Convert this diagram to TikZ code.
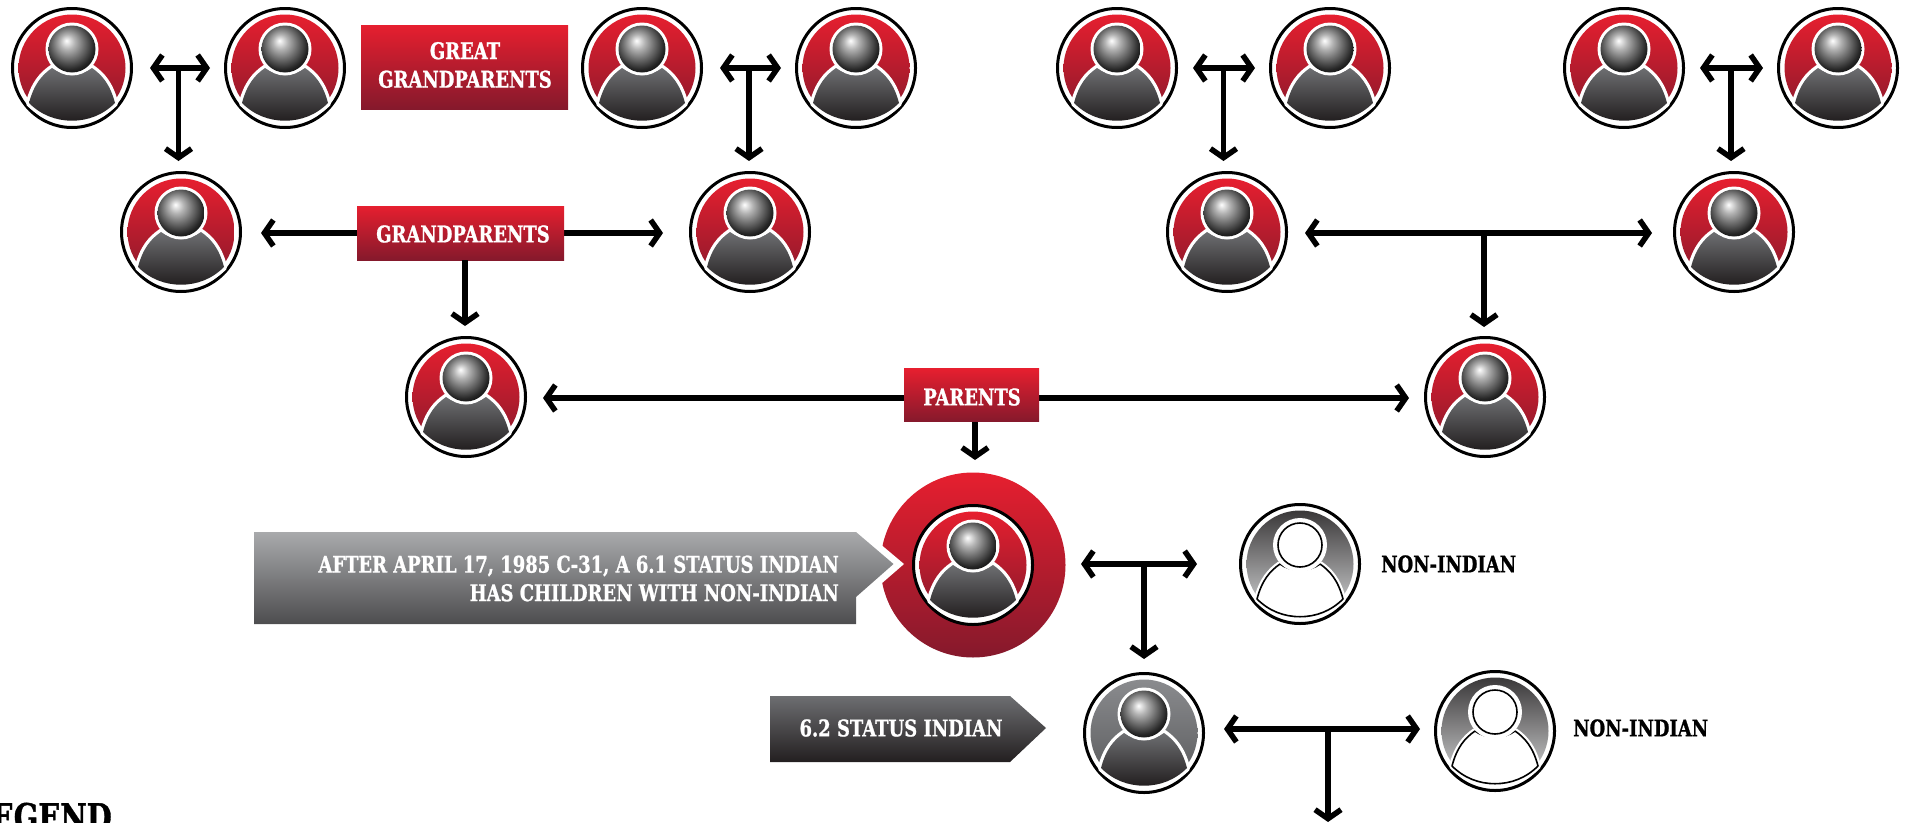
\documentclass[tikz,border=0pt]{standalone}
\usepackage{fontspec}
\setmainfont{DejaVu Serif}[FakeStretch=0.78,BoldFeatures={FakeBold=1}]
\usetikzlibrary{arrows.meta,calc}

\definecolor{redtop}{HTML}{E61F2F}
\definecolor{redbot}{HTML}{85192C}
\definecolor{steeltop}{HTML}{8A8B8E}
\definecolor{steelbot}{HTML}{58595B}
\definecolor{darktop}{HTML}{6D6E71}
\definecolor{darkbot}{HTML}{231F20}
\definecolor{greytop}{HTML}{A9AAAC}
\definecolor{greybot}{HTML}{4D4D4F}
\definecolor{fadetop}{HTML}{3A3839}
\definecolor{fadebot}{HTML}{D8D9DA}

\pgfdeclareradialshading{headball}{\pgfpoint{-6bp}{9bp}}{%
  color(0bp)=(white); color(8bp)=(black!30); color(16bp)=(black!55);
  color(26bp)=(black!85); color(34bp)=(black); color(50bp)=(black)}

\tikzset{
  personring/.style={circle,draw=black,fill=white,line width=3pt,minimum size=119pt,inner sep=0pt},
  link/.style={line width=5.5pt,line join=miter,>={Straight Barb[length=9pt,width=26pt,line width=5.5pt]}},
  redbox/.style={top color=redtop,bottom color=redbot,inner sep=0pt},
  slabtext/.style={font=\fontsize{23}{28.5}\selectfont\bfseries,inner sep=0pt},
  bodyshape/.style={insert path={(-43,35) .. controls (-38,16) and (-30,7) .. (-20,0)
    .. controls (-10,8) and (10,8) .. (20,0) .. controls (30,7) and (38,16) .. (43,35)
    .. controls (31,47) and (16,52.7) .. (0,52.7) .. controls (-16,52.7) and (-31,47) .. cycle}},
  pics/person/.style n args={2}{code={
    \shade[top color=#1,bottom color=#2] (0,0) circle (53.5);
    \draw[white,line width=6.5pt,line join=round,bodyshape];
    \shade[top color=darktop,bottom color=darkbot,bodyshape];
    \fill[white] (0,-19) circle (26.5);
    \shade[shading=headball] (0,-19) circle (23.5);
  }},
  pics/outlineperson/.style={code={
    \shade[top color=fadetop,bottom color=fadebot] (0,0) circle (53.5);
    \draw[white,fill=white,line width=6pt,line join=round,bodyshape];
    \draw[black,line width=1.6pt,line join=round,bodyshape];
    \fill[white] (0,-19) circle (27);
    \draw[black,fill=white,line width=1.6pt] (0,-19) circle (22);
  }}
}

\begin{document}
\begin{tikzpicture}[x=1pt,y=-1pt]
\useasboundingbox (0,0) rectangle (1905,822);
\clip (0,0) rectangle (1905,822);

% --- Large red disc behind the 6.1 person ---
\shade[top color=redtop,bottom color=redbot] (973,565) circle (92.5);
\fill[white] (866,532) -- (904,564) -- (866,597) -- cycle;

% --- Red persons, row by row ---
\foreach \nm/\x/\y in {gga/72/68,ggb/285/68,ggc/642/68,ggd/856/68,gge/1117/68,ggf/1330/68,ggg/1624/68,ggh/1838/68,
    gpa/181/232,gpb/750/232,gpc/1227/232,gpd/1734/232,para/466/397,parb/1485/397,self/973/565}{
  \node[personring] (\nm) at (\x,\y) {};
  \pic at (\nm) {person={redtop}{redbot}};
}

% --- Second generation and the two outlined persons ---
\node[personring] (child) at (1144,733) {};
\pic at (child) {person={steeltop}{steelbot}};
\node[personring] (nona) at (1300,564) {};
\pic at (nona) {outlineperson};
\node[personring] (nonb) at (1495,731) {};
\pic at (nonb) {outlineperson};

% --- Couples and their stems ---
\coordinate (ja) at ($(gga)!0.5!(ggb)$);
\coordinate (jb) at ($(ggc)!0.5!(ggd)$);
\coordinate (jc) at ($(gge)!0.5!(ggf)$);
\coordinate (jd) at ($(ggg)!0.5!(ggh)$);
\draw[link,<->,shorten <=17pt,shorten >=14pt] (gga) -- (ggb);
\draw[link,<->,shorten <=17pt,shorten >=14pt] (ggc) -- (ggd);
\draw[link,<->,shorten <=15pt,shorten >=14pt] (gge) -- (ggf);
\draw[link,<->,shorten <=15pt,shorten >=14pt] (ggg) -- (ggh);
\draw[link,->,shorten >=10pt] (ja) -- (ja |- gpa.north);
\draw[link,->,shorten >=10pt] (jb) -- (jb |- gpb.north);
\draw[link,->,shorten >=10pt] (jc) -- (jc |- gpc.north);
\draw[link,->,shorten >=10pt] (jd) -- (jd |- gpd.north);

\coordinate (lb) at (0,233);
\coordinate (lc) at (0,398);
\draw[link,<->,shorten <=19pt,shorten >=26pt] (gpa.east |- lb) -- (gpb.west |- lb);
\draw[link,<->,shorten <=17pt,shorten >=21pt] (gpc.east |- lb) -- (gpd.west |- lb);
\coordinate (je) at (1484,233);
\draw[link,->,shorten >=9pt] (je) -- (je |- parb.north);
\draw[link,<->,shorten <=16pt,shorten >=15pt] (para.east |- lc) -- (parb.west |- lc);

% --- Self with non-Indian partner ---
\coordinate (jf) at (1144,564);
\draw[link,<->,shorten <=47pt,shorten >=42pt] (self.east |- jf) -- (nona.west |- jf);
\draw[link,->,shorten >=13pt] (jf) -- (jf |- child.north);

% --- Child with non-Indian partner ---
\coordinate (jg) at (1328,729);
\draw[link,<->,shorten <=19pt,shorten >=14pt] (child.east |- jg) -- (nonb.west |- jg);
\coordinate (jh) at (1328,822);
\draw[link,->] (jg) -- (jh);

% --- Generation boxes ---
\node[redbox,minimum width=207pt,minimum height=84pt] (ggbox) at (464.5,67) {};
\node[slabtext,text=white,align=center] (gglab) at (465,65) {GREAT\\GRANDPARENTS};
\node[redbox,minimum width=207pt,minimum height=54pt] (gpbox) at (460.5,233) {};
\node[slabtext,text=white] (gplab) at (463,234) {GRANDPARENTS};
\node[redbox,minimum width=135pt,minimum height=53pt] (parbox) at (971.5,395.3) {};
\node[slabtext,text=white] (parlab) at (972,397) {PARENTS};
\coordinate (jk) at (465,232);
\draw[link,->,shorten >=10pt] (jk |- gpbox.south) -- (jk |- para.north);
\coordinate (jm) at (975,423);
\draw[link,->,shorten >=44pt] (jm |- parbox.south) -- (jm |- self.north);

% --- Callouts ---
\shade[top color=greytop,bottom color=greybot] (254,532) -- (856,532) -- (893.5,564) -- (856,597) -- (856,624) -- (254,624) -- cycle;
\node[slabtext,text=white,align=right,anchor=east] (aftertext) at (839,578.5) {AFTER APRIL 17, 1985 C-31, A 6.1 STATUS INDIAN\\HAS CHILDREN WITH NON-INDIAN};
\shade[top color=darktop,bottom color=darkbot] (770,696) -- (1010,696) -- (1046,728) -- (1010,762) -- (770,762) -- cycle;
\node[slabtext,text=white] (statustext) at (901,728) {6.2 STATUS INDIAN};

% --- Plain labels ---
\node[slabtext,anchor=west] (nonlaba) at (1381,564) {NON-INDIAN};
\node[slabtext,anchor=west] (nonlabb) at (1573,728) {NON-INDIAN};
\node[font=\fontsize{37}{37}\selectfont\bfseries,inner sep=0pt,anchor=north east] (legend) at (112,802.5) {LEGEND};

\end{tikzpicture}
\end{document}
